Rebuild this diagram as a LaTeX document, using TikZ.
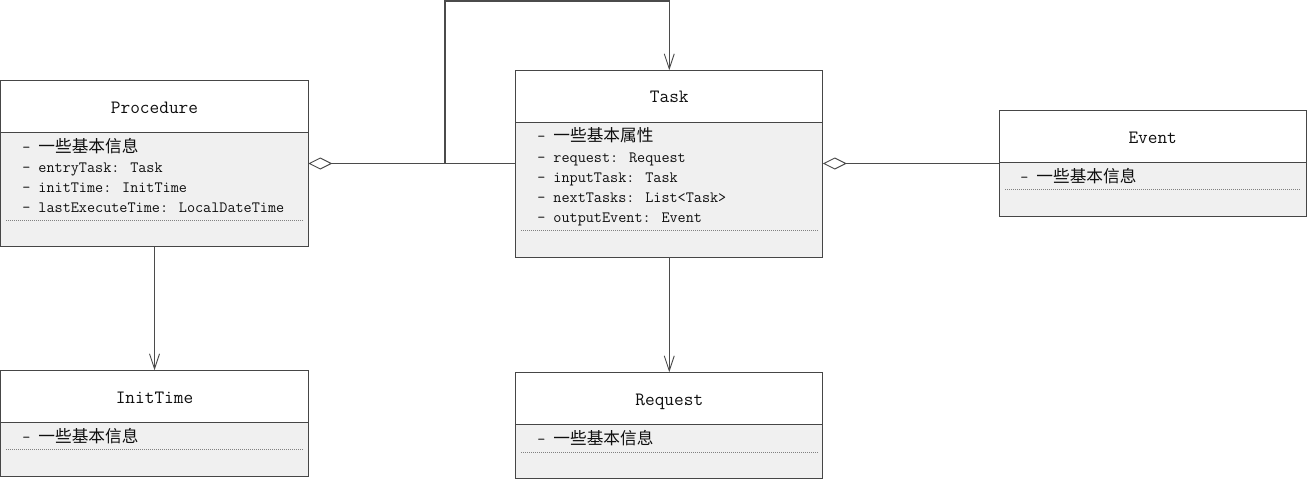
\documentclass[tikz,border=0pt]{standalone}
\usepackage{fontspec}
\newfontfamily\cjkf{Noto Sans CJK SC}
\usetikzlibrary{arrows.meta,fit}
\newcommand\titlefont{\ttfamily\fontsize{14.1}{16}\selectfont}
\newcommand\attrfont{\ttfamily\fontsize{11.8}{14}\selectfont}
\newcommand\zh[1]{{\cjkf\fontsize{12.5}{14}\selectfont #1}}
\definecolor{bodygray}{RGB}{240,240,240}
\definecolor{edgecol}{RGB}{70,70,70}
\definecolor{conncol}{RGB}{75,75,75}
\definecolor{txtcol}{RGB}{15,15,15}
\tikzset{
  boxbody/.style={inner sep=0pt, fill=bodygray},
  boxline/.style={draw=edgecol, line width=0.9pt},
  dotline/.style={draw=gray, line width=0.6pt, dash pattern=on 0.75pt off 0.75pt},
  titletext/.style={anchor=base, inner sep=0pt, font=\titlefont, text=txtcol},
  attr/.style={anchor=base west, inner sep=0pt, font=\attrfont, text=txtcol},
  conn/.style={draw=conncol, line width=0.85pt},
  openarrow/.style={-{Straight Barb[length=11.25pt, width=7.5pt, line width=0.7pt]}},
  aggr/.style={{Diamond[open, length=18pt, width=9pt, line width=0.7pt, fill=white]}-}
}
\begin{document}
\begin{tikzpicture}[x=0.75pt, y=-0.75pt]
\useasboundingbox (0,0) rectangle (1308,480);

% ---------- Procedure ----------
\node[boxbody, fit={(1,80.5) (308,246.5)}] (proc) {};
\fill[white] (proc.north west) rectangle (308,132.5);
\draw[boxline] (1,132.5) -- (308,132.5);
\draw[boxline] (proc.north west) rectangle (proc.south east);
\node[titletext] (proct) at (154.5,113) {Procedure};
\node[attr] (proca1) at (22,152) {- \zh{一些基本信息}};
\node[attr] (proca2) at (22,172.5) {- entryTask: Task};
\node[attr] (proca3) at (22,192.7) {- initTime: InitTime};
\node[attr] (proca4) at (22,212.7) {- lastExecuteTime: LocalDateTime};
\draw[dotline] (6,220) -- (303,220);

% ---------- Task ----------
\node[boxbody, fit={(516,70.5) (822.5,257)}] (task) {};
\fill[white] (task.north west) rectangle (822.5,122.7);
\draw[boxline] (516,122.7) -- (822.5,122.7);
\draw[boxline] (task.north west) rectangle (task.south east);
\node[titletext] (taskt) at (669.3,102.7) {Task};
\node[attr] (taska1) at (537,141.5) {- \zh{一些基本属性}};
\node[attr] (taska2) at (537,162.5) {- request: Request};
\node[attr] (taska3) at (537,182.6) {- inputTask: Task};
\node[attr] (taska4) at (537,202.6) {- nextTasks: List<Task>};
\node[attr] (taska5) at (537,222.6) {- outputEvent: Event};
\draw[dotline] (521,230) -- (818,230);

% ---------- Event ----------
\node[boxbody, fit={(999.5,110.5) (1306,216.5)}] (event) {};
\fill[white] (event.north west) rectangle (1306,162.7);
\draw[boxline] (999.5,162.7) -- (1306,162.7);
\draw[boxline] (event.north west) rectangle (event.south east);
\node[titletext] (eventt) at (1152.7,143.3) {Event};
\node[attr] (eventa1) at (1020,182) {- \zh{一些基本信息}};
\draw[dotline] (1005,189.5) -- (1301,189.5);

% ---------- InitTime ----------
\node[boxbody, fit={(1,370.5) (308,476.5)}] (init) {};
\fill[white] (init.north west) rectangle (308,422.7);
\draw[boxline] (1,422.7) -- (308,422.7);
\draw[boxline] (init.north west) rectangle (init.south east);
\node[titletext] (initt) at (154.5,403.3) {InitTime};
\node[attr] (inita1) at (22,442) {- \zh{一些基本信息}};
\draw[dotline] (6,449.5) -- (303,449.5);

% ---------- Request ----------
\node[boxbody, fit={(516,372.5) (822.5,478.5)}] (req) {};
\fill[white] (req.north west) rectangle (822.5,424.7);
\draw[boxline] (516,424.7) -- (822.5,424.7);
\draw[boxline] (req.north west) rectangle (req.south east);
\node[titletext] (reqt) at (669.3,405) {Request};
\node[attr] (reqa1) at (537,444) {- \zh{一些基本信息}};
\draw[dotline] (521,452) -- (818,452);

% ---------- connectors ----------
\coordinate (loopc) at (445,1);
\draw[conn, openarrow] (task.west |- proc.east) -| (loopc) -| (task.north);
\draw[conn, aggr] (proc.east) -- (proc.east -| task.west);
\draw[conn, aggr] (task.east |- event.west) -- (event.west);
\draw[conn, openarrow] (proc.south) -- (init.north);
\draw[conn, openarrow] (task.south) -- (req.north);
\end{tikzpicture}
\end{document}
